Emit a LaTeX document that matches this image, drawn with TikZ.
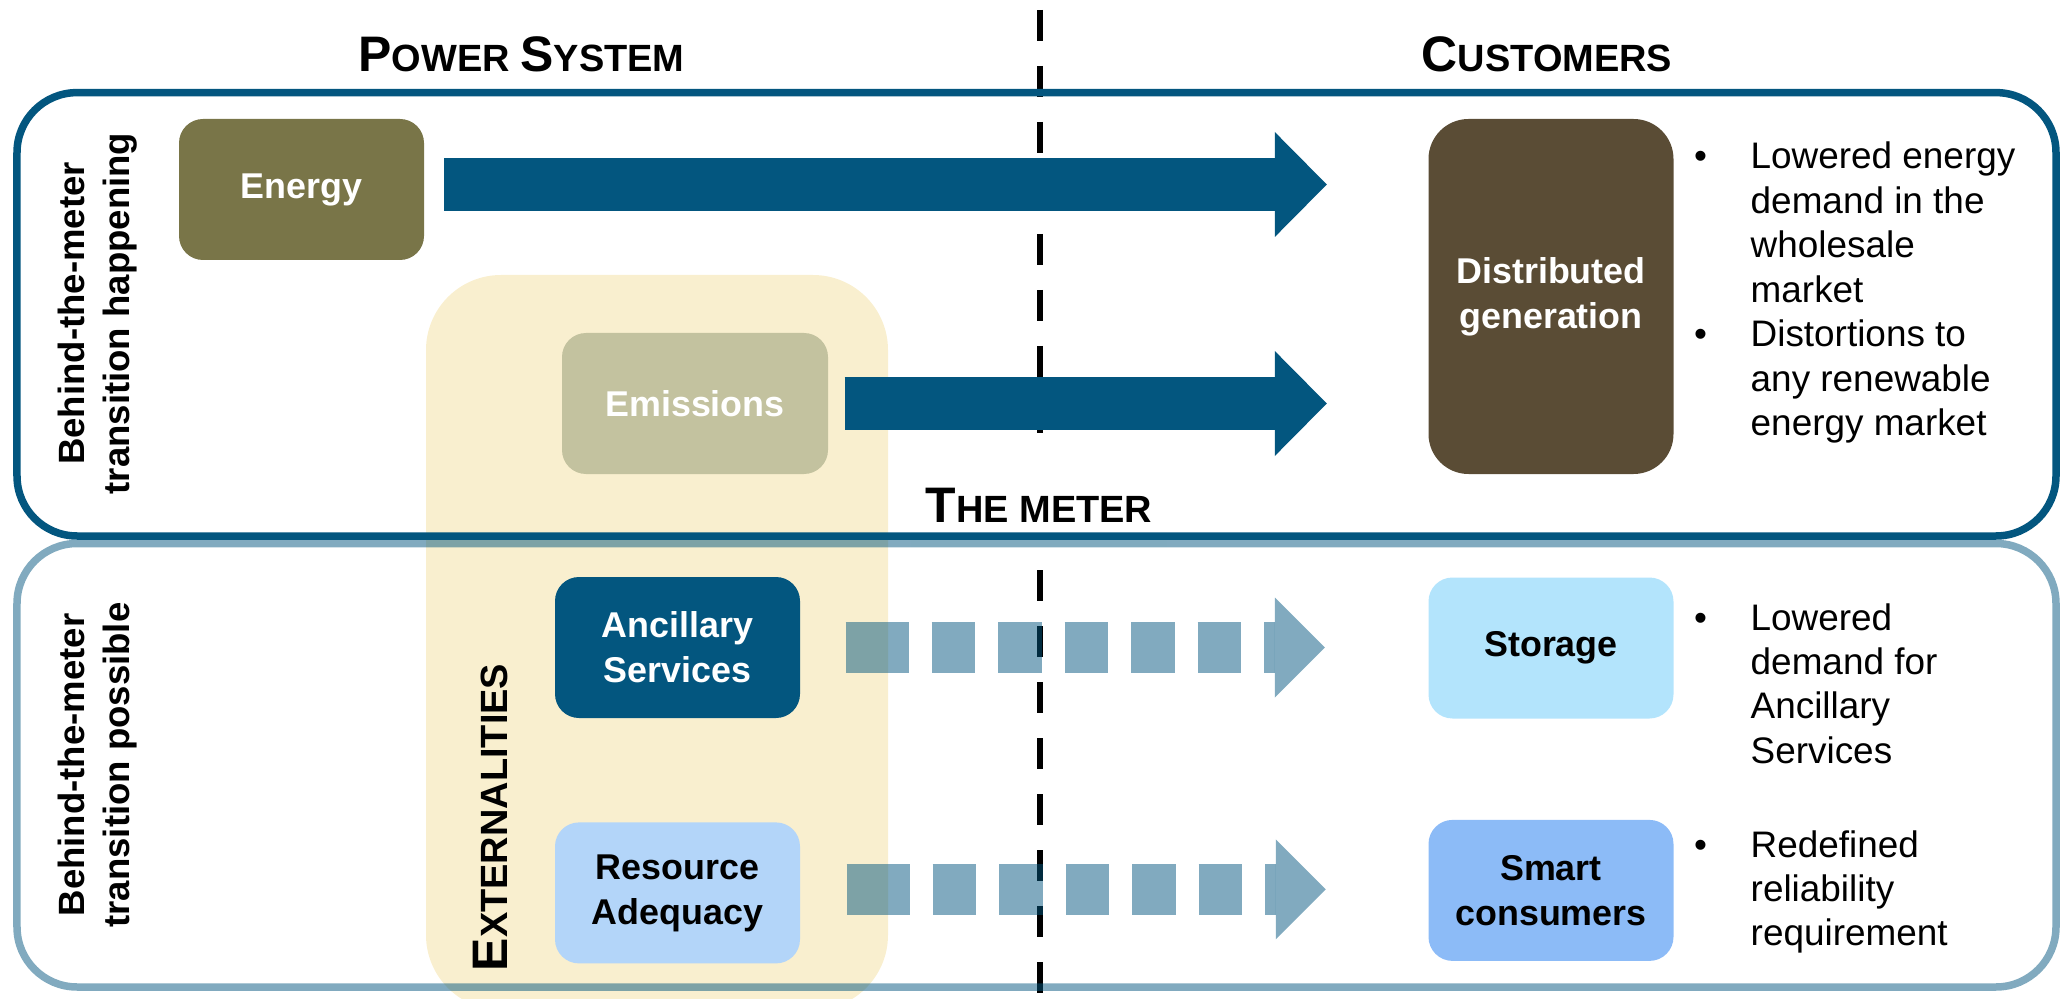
\documentclass[tikz,border=0pt]{standalone}
\usepackage{fontspec}
\setmainfont{Liberation Sans}
\usetikzlibrary{positioning,arrows.meta}

\definecolor{arrowblue}{HTML}{03567F}
\definecolor{olivebox}{HTML}{797548}
\definecolor{sagebox}{HTML}{C3C29F}
\definecolor{brownbox}{HTML}{5A4C35}
\definecolor{paleblue}{HTML}{B3D5F9}
\definecolor{skyblue}{HTML}{B3E4FC}
\definecolor{midblue}{HTML}{8CBBF7}
\definecolor{extyellow}{HTML}{F9EFCF}

\newcommand{\fakesc}[2]{{\fontsize{14.2}{17}\selectfont #1}{\fontsize{10.8}{13}\selectfont #2}}

\tikzset{
  box/.style={rectangle, rounded corners=2.4mm, minimum width=2.45cm, minimum height=1.41cm,
    inner sep=0pt, align=center, font=\bfseries\fontsize{10.2}{12.8}\selectfont},
  tier/.style={rounded corners=6mm, line width=0.75mm, draw=arrowblue},
  fat/.style={line width=5.25mm, arrowblue, -{Triangle[length=5.2mm, width=10.5mm, line width=0pt]}},
  fatdash/.style={line width=5.1mm, arrowblue, opacity=0.5,
    dash pattern=on 6.3mm off 2.3mm on 4.35mm off 2.3mm on 4.35mm off 2.3mm on 4.35mm off 2.3mm on 4.35mm off 2.3mm on 4.35mm off 2.3mm on 5mm off 10mm,
    -{Triangle[length=5mm, width=10mm, line width=0pt]}},
  meter/.style={line width=0.65mm, dash pattern=on 3.1mm off 2.5mm},
  heading/.style={anchor=base, inner sep=0pt, font=\bfseries},
  sidelabel/.style={rotate=90, align=center, inner sep=0pt, font=\bfseries\fontsize{10.4}{12.8}\selectfont},
  bullets/.style={anchor=base west, inner sep=0pt, font=\fontsize{10.5}{12.65}\selectfont}
}

\begin{document}
\begin{tikzpicture}
\useasboundingbox (0,0) rectangle (20.63,-9.99);

% externalities band and the meter
\fill[extyellow, rounded corners=7.5mm] (4.26,-2.75) rectangle (8.88,-10.10);
\coordinate (mtop) at (10.40,-0.10);
\coordinate (mbot) at (10.40,-10.10);
\draw[meter] (mtop) -- (mbot);
\node[heading, anchor=center, fill=white, minimum height=9.5mm, inner xsep=1.5mm](meterlbl) at (10.39,-5.05){\fakesc{T}{HE METER}};

\draw[tier] (0.17,-0.926) rectangle (20.56,-5.36);
\draw[tier, draw opacity=0.5] (0.17,-5.435) rectangle (20.56,-9.87);

\node[heading](power) at (5.215,-0.72){\fakesc{P}{OWER }\fakesc{S}{YSTEM}};
\node[heading](cust) at (15.47,-0.72){\fakesc{C}{USTOMERS}};
\node[heading, rotate=90](ext) at (5.07,-8.175){\fakesc{E}{XTERNALITIES}};
\node[sidelabel](happ) at (0.975,-3.135){Behind-the-meter\\transition happening};
\node[sidelabel](poss) at (0.975,-7.65){Behind-the-meter\\transition possible};

\node[box, fill=olivebox, text=white](en) at (3.015,-1.895){Energy};
\node[box, fill=sagebox, text=white, minimum width=2.66cm](em) at (6.95,-4.035){Emissions};
\node[box, fill=arrowblue, text=white](anc) at (6.775,-6.475){Ancillary\\Services};
\node[box, fill=paleblue](res)[below = 1.03cm of anc]{Resource\\Adequacy};
\node[box, fill=brownbox, text=white, minimum height=3.55cm, rounded corners=4mm](dg) at (15.51,-2.965){Distributed\\generation};
\node[box, fill=skyblue](sto) at (15.51,-6.48){Storage};
\node[box, fill=midblue](sc)[below = 1.0cm of sto]{Smart\\consumers};

\path[fat]
	([xshift=1.95mm, yshift=0.5mm]en.east) edge ([xshift=-10.1mm, yshift=0.5mm]dg.west |- en.east)
	([xshift=1.6mm]em.east) edge ([xshift=-10.1mm]dg.west |- em.east);
\path[fatdash]
	([xshift=4.5mm]anc.east) edge ([xshift=-10.3mm]sto.west |- anc.east)
	([xshift=4.6mm, yshift=0.35mm]res.east) edge ([xshift=-10.2mm, yshift=0.35mm]sc.west |- res.east);

\node[bullets](dgnotes) at (16.935,-1.69){\begin{tabular}[t]{@{}p{5.65mm}@{}l@{}}
•&Lowered energy\\ &demand in the\\ &wholesale\\ &market\\
•&Distortions to\\ &any renewable\\ &energy market\end{tabular}};
\node[bullets](stonotes) at (16.935,-6.30){\begin{tabular}[t]{@{}p{5.65mm}@{}l@{}}
•&Lowered\\ &demand for\\ &Ancillary\\ &Services\end{tabular}};
\node[bullets](scnotes) at (16.935,-8.57){\begin{tabular}[t]{@{}p{5.65mm}@{}l@{}}
•&Redefined\\ &reliability\\ &requirement\end{tabular}};
\end{tikzpicture}
\end{document}
